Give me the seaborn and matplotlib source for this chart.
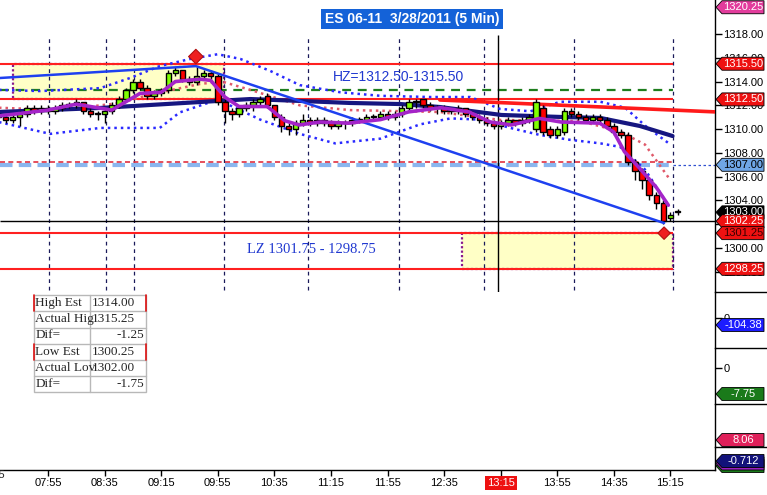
import numpy as np
import seaborn as sns
import matplotlib.pyplot as plt
from matplotlib.patches import Polygon, Rectangle
from matplotlib.lines import Line2D
from matplotlib.transforms import IdentityTransform, blended_transform_factory

# ES 06-11, 5 min bars, bar 0 = 07:20
opens = [1311.25, 1311.0, 1310.75, 1311.0, 1311.25, 1311.75, 1311.5, 1311.75, 1311.5, 1311.75,
         1312.0, 1312.0, 1312.25, 1311.5, 1311.25, 1311.25, 1311.5, 1312.0, 1312.5, 1313.25,
         1314.0, 1313.5, 1312.75, 1313.0, 1313.25, 1314.75, 1315.0, 1314.25, 1314.0, 1314.5,
         1314.75, 1314.5, 1312.25, 1311.5, 1311.25, 1311.75, 1312.0, 1312.25, 1312.75, 1312.0,
         1311.0, 1310.25, 1310.0, 1310.5, 1310.75, 1310.5, 1310.75, 1310.5, 1310.25, 1310.5,
         1310.5, 1310.75, 1310.75, 1311.0, 1311.0, 1311.25, 1311.0, 1311.25, 1311.75, 1312.25,
         1312.5, 1312.0, 1311.75, 1311.75, 1311.5, 1311.5, 1311.75, 1311.25, 1311.0, 1310.75,
         1310.5, 1310.25, 1310.5, 1310.75, 1310.5, 1310.75, 1310.0, 1311.75, 1310.0, 1309.5,
         1309.75, 1311.5, 1311.25, 1311.0, 1310.75, 1311.0, 1310.75, 1310.25, 1309.75, 1309.5,
         1307.25, 1306.5, 1305.75, 1304.5, 1303.75, 1302.5, 1303.0]
highs = [1311.5, 1311.25, 1311.25, 1311.5, 1312.0, 1312.0, 1312.0, 1312.0, 1312.0, 1312.25,
         1312.25, 1312.5, 1312.25, 1311.75, 1311.5, 1311.75, 1312.25, 1312.75, 1313.5, 1314.25,
         1314.25, 1313.75, 1313.25, 1313.5, 1315.0, 1315.25, 1315.0, 1314.5, 1315.25, 1315.0,
         1315.0, 1314.75, 1312.5, 1311.75, 1312.0, 1312.25, 1312.5, 1312.75, 1313.0, 1312.0,
         1311.25, 1310.5, 1310.75, 1311.25, 1311.0, 1311.0, 1311.0, 1310.75, 1310.75, 1310.75,
         1311.0, 1311.0, 1311.25, 1311.25, 1311.5, 1311.5, 1311.5, 1312.0, 1312.5, 1312.5,
         1312.5, 1312.25, 1312.0, 1312.0, 1311.75, 1312.0, 1311.75, 1311.5, 1311.25, 1311.0,
         1310.75, 1310.75, 1311.0, 1310.75, 1311.0, 1311.25, 1312.5, 1312.0, 1310.25, 1310.25,
         1311.75, 1311.75, 1311.5, 1311.25, 1311.25, 1311.25, 1311.0, 1310.5, 1310.0, 1309.75,
         1307.5, 1306.75, 1306.0, 1304.75, 1304.0, 1303.0, 1303.25]
lows = [1310.75, 1310.5, 1310.5, 1310.25, 1311.0, 1311.25, 1311.25, 1311.25, 1311.25, 1311.5,
        1311.75, 1311.75, 1311.25, 1311.0, 1310.75, 1310.5, 1311.25, 1311.75, 1312.25, 1313.0,
        1313.25, 1312.5, 1312.5, 1312.75, 1313.0, 1314.5, 1314.0, 1313.75, 1313.75, 1314.25,
        1314.25, 1312.0, 1310.5, 1310.75, 1311.0, 1311.5, 1311.5, 1312.0, 1311.75, 1310.75,
        1309.75, 1309.5, 1309.5, 1310.25, 1310.25, 1310.25, 1310.25, 1310.0, 1310.0, 1310.0,
        1310.25, 1310.5, 1310.5, 1310.75, 1310.75, 1310.75, 1310.75, 1311.0, 1311.5, 1311.75,
        1311.75, 1311.5, 1311.25, 1311.25, 1311.25, 1311.25, 1311.0, 1310.75, 1310.5, 1310.25,
        1310.0, 1310.0, 1310.25, 1310.25, 1310.25, 1310.5, 1309.75, 1309.5, 1309.25, 1309.25,
        1309.5, 1311.0, 1310.75, 1310.5, 1310.5, 1310.5, 1310.0, 1309.5, 1309.25, 1307.0,
        1305.75, 1305.0, 1304.0, 1303.25, 1302.0, 1302.25, 1302.75]
closes = [1311.0, 1310.75, 1311.0, 1311.25, 1311.75, 1311.5, 1311.75, 1311.5, 1311.75, 1312.0,
          1312.0, 1312.25, 1311.5, 1311.25, 1311.25, 1311.5, 1312.0, 1312.5, 1313.25, 1314.0,
          1313.5, 1312.75, 1313.0, 1313.25, 1314.75, 1315.0, 1314.25, 1314.0, 1314.5, 1314.75,
          1314.5, 1312.25, 1311.5, 1311.25, 1311.75, 1312.0, 1312.25, 1312.5, 1312.0, 1311.0,
          1310.25, 1310.0, 1310.5, 1310.75, 1310.5, 1310.75, 1310.5, 1310.25, 1310.5, 1310.5,
          1310.75, 1310.75, 1311.0, 1311.0, 1311.25, 1311.0, 1311.25, 1311.75, 1312.25, 1312.25,
          1312.0, 1311.75, 1311.75, 1311.5, 1311.5, 1311.75, 1311.25, 1311.0, 1310.75, 1310.5,
          1310.25, 1310.5, 1310.75, 1310.5, 1310.75, 1311.0, 1312.25, 1309.75, 1309.5, 1310.0,
          1311.5, 1311.25, 1311.0, 1310.75, 1311.0, 1310.75, 1310.25, 1309.75, 1309.5, 1307.25,
          1306.5, 1305.75, 1304.5, 1303.75, 1302.25, 1302.75, 1303.0]

# indicator lines (bar index, price)
fast_x = [0, 7, 11, 14, 16, 20, 23, 25, 28.5, 30, 32, 34, 38, 40.5, 42.5, 45.5, 49.5, 54, 58, 62.5,
          66.5, 69.5, 72.5, 76.5, 79.5, 85, 87, 88.5, 90.5, 93, 94.7]
fast_y = [1311.1, 1311.6, 1312.1, 1311.8, 1311.6, 1313.0, 1313.1, 1314.0, 1314.2, 1314.1, 1312.7,
          1311.9, 1311.9, 1310.7, 1310.35, 1310.6, 1310.5, 1310.8, 1311.45, 1311.8, 1311.45, 1310.6,
          1310.35, 1310.9, 1310.6, 1310.5, 1309.75, 1308.1, 1306.8, 1305.1, 1303.6]
slow_x = [0, 14.4, 28.5, 35.6, 42.6, 49.7, 56.8, 62.4, 71.1, 79.6, 85.1, 90.7, 95.3]
slow_y = [1311.44, 1311.78, 1312.28, 1312.53, 1312.37, 1312.2, 1312.11, 1311.86, 1311.19, 1311.02,
          1310.94, 1310.26, 1309.42]
mid_x = [0, 8.7, 17.2, 21.4, 28.5, 31.6, 35.6, 42.6, 49.7, 62.4, 70.9, 82.2, 87.9, 91.4, 95.0]
mid_y = [1311.8, 1311.6, 1312.2, 1312.9, 1313.8, 1314.0, 1313.3, 1312.0, 1311.6, 1311.44, 1310.77,
         1310.68, 1309.8, 1308.7, 1305.7]
upper_x = [0, 5.9, 14.4, 18.6, 22.8, 27.1, 31.0, 34.2, 38.4, 42.6, 48.3, 54.0, 61.0, 66.7, 70.9,
           75.2, 79.4, 85.1, 88.6, 91.4, 95.0]
upper_y = [1313.3, 1313.2, 1313.45, 1314.3, 1315.3, 1315.9, 1316.3, 1315.9, 1314.9, 1313.7, 1313.1,
           1312.8, 1312.7, 1312.7, 1311.7, 1311.5, 1312.3, 1312.3, 1311.8, 1310.3, 1308.7]
lower_x = [0, 7.3, 14.4, 22.8, 25.6, 30.6, 32.0, 37.0, 42.6, 47.6, 54.0, 59.6, 63.9, 68.1, 72.35,
           76.6, 80.8, 85.1, 87.9, 91.4, 94.7]
lower_y = [1310.6, 1309.6, 1310.1, 1310.1, 1311.4, 1312.4, 1312.2, 1310.8, 1309.6, 1308.8, 1309.2,
           1310.4, 1310.9, 1310.8, 1310.1, 1309.5, 1309.1, 1308.8, 1308.5, 1306.6, 1303.6]

trend_x = [0.2, 27.9, 94.1]
trend_y = [1314.3, 1315.3, 1302.1]
res_x = [62.4, 101.3]
res_y = [1312.45, 1311.45]
zone_lines = [1315.50, 1312.50, 1301.25, 1298.25]
hz = (2.05, 31.9, 1312.50, 1315.50)
lz = (65.6, 95.3, 1298.25, 1301.25)
session_lines = [7.1, 15.2, 19.2, 31.9, 43.8, 56.6, 68.7, 81.4, 95.3]
now_line = 70.6
pivots = [(27.9, 1316.1), (94.1, 1301.25)]

time_pos = [7, 15, 23, 31, 39, 47, 55, 63, 71, 79, 87, 95]
time_labels = ["07:55", "08:35", "09:15", "09:55", "10:35", "11:15", "11:55", "12:35",
               "13:15", "13:55", "14:35", "15:15"]
price_ticks = [1298, 1300, 1302, 1304, 1306, 1308, 1310, 1312, 1314, 1316, 1318]
price_tags = [(1320.25, '#e23c9c', 'white'), (1315.50, '#ee1111', 'white'),
              (1312.50, '#ee1111', 'white'), (1307.00, '#6fa6e6', 'black'),
              (1303.00, '#000000', 'white'), (1302.25, '#ee1111', 'white'),
              (1301.25, '#ee1111', '#3a0000'), (1298.25, '#ee1111', 'white')]

table_rows = [("High Est", "1314.00"), ("Actual Hig", "1315.25"), ("Dif=", "-1.25"),
              ("Low Est", "1300.25"), ("Actual Lov", "1302.00"), ("Dif=", "-1.75")]

sns.set_theme(style="white")
plt.rcParams['font.family'] = ['Liberation Sans', 'DejaVu Sans']

W, H = 767, 495
fig = plt.figure(figsize=(W / 100, H / 100), dpi=100)
fig.patch.set_facecolor('white')
XL = (0.21, 101.3)

ax = fig.add_axes([0, 1 - 292 / H, 715 / W, 292 / H])
ax.set_xlim(*XL)
ax.set_ylim(1296.3, 1320.86)
for s in ['top', 'left', 'bottom']:
    ax.spines[s].set_visible(False)
ax.spines['right'].set_color('black')
ax.spines['right'].set_linewidth(1)
ax.set_xticks([])
ax.yaxis.tick_right()
ax.set_yticks(price_ticks)
ax.set_yticklabels([f"{v:.2f}" for v in price_ticks])
ax.tick_params(axis='y', direction='out', length=5, width=1, pad=1, labelsize=8,
               colors='black', right=True, left=False)

# zones
for (x0, x1, y0, y1) in [hz, lz]:
    ax.add_patch(Rectangle((x0, y0), x1 - x0, y1 - y0, facecolor='#ffffc6', edgecolor='#8a1a8a',
                           ls=(0, (1, 1)), lw=1.6, zorder=1))
ax.hlines(zone_lines, XL[0], 95.3, color='#ff2020', lw=1.5, zorder=2)
ax.hlines(1313.25, XL[0], 95.3, color='#1e7e1e', lw=1.6, linestyles=(0, (4, 3)), zorder=2)
ax.hlines(1307.0, XL[0], 95.3, color='#8ab6ee', lw=3, linestyles=(0, (3, 1.5)), zorder=2)
ax.hlines(1307.25, XL[0], 95.3, color='#e03040', lw=1.2, linestyles=(0, (3, 2)), zorder=2)
ax.hlines(1307.0, 95.3, XL[1], color='#3050d0', lw=0.9, linestyles=(0, (2, 2)), zorder=2)
ax.hlines(1302.25, XL[0], XL[1], color='black', lw=1, zorder=2)
ax.vlines(session_lines, 1296.45, 1317.9, colors='#1a1a5a', linestyles=(0, (3, 3)), lw=0.9, zorder=1)
ax.vlines(now_line, 1296.3, 1317.9, colors='black', lw=1, zorder=2)

# bands and averages
sns.lineplot(x=upper_x, y=upper_y, ax=ax, color='#2a2aff', lw=1.8, linestyle=(0, (1, 1.6)), zorder=3)
sns.lineplot(x=lower_x, y=lower_y, ax=ax, color='#2a2aff', lw=1.8, linestyle=(0, (1, 1.6)), zorder=3)
sns.lineplot(x=mid_x, y=mid_y, ax=ax, color='#e05a6a', lw=1.8, linestyle=(0, (1, 1.6)), zorder=3)
sns.lineplot(x=slow_x, y=slow_y, ax=ax, color='#161680', lw=3, zorder=3)
sns.lineplot(x=trend_x, y=trend_y, ax=ax, color='#1e40f0', lw=1.8, zorder=6)
sns.lineplot(x=res_x, y=res_y, ax=ax, color='#ff1a1a', lw=2.6, zorder=3)

# candles
idx = np.arange(len(closes))
o = np.array(opens)
c = np.array(closes)
up = c >= o
ax.vlines(idx, lows, highs, color='black', lw=1, zorder=4)
ax.bar(idx, np.maximum(np.abs(c - o), 0.08), bottom=np.minimum(o, c), width=0.78,
       color=np.where(up, '#80ff00', '#ff0000'), edgecolor='black', linewidth=1.0, zorder=5)
sns.lineplot(x=fast_x, y=fast_y, ax=ax, color='#a424c8', lw=2.6, zorder=6)

px, py = zip(*pivots)
ax.scatter(px, py, marker='D', s=[55, 40], color='#ee2020', edgecolor='#b01010', lw=0.8, zorder=7)

ax.text(56.5, 1314.38, "HZ=1312.50-1315.50", color='#2038d0', fontsize=10, ha='center', va='center',
        zorder=7)
ax.text(44.2, 1299.9, "LZ 1301.75 - 1298.75", color='#2038d0', fontsize=10.5, ha='center',
        va='center', family=['Liberation Serif', 'DejaVu Serif'], zorder=7)

fig.text(412 / W, 1 - 19 / H, "ES 06-11  3/28/2011 (5 Min)", ha='center', va='center', color='white',
         weight='bold', fontsize=10,
         bbox=dict(facecolor='#1462d8', edgecolor='none', boxstyle='square,pad=0.25'))

# lower indicator panels
panels = [(292, 348, (-447, 388), [0]), (348, 404, (-10.73, 5.96), [0]),
          (404, 447, (5.96, 18.86), []), (447, 470, (-1.612, 0.688), [])]
pax = []
for top, bot, lim, ticks in panels:
    a = fig.add_axes([0, 1 - bot / H, 715 / W, (bot - top) / H])
    a.set_xlim(*XL)
    a.set_ylim(*lim)
    a.patch.set_alpha(0)
    for s in ['top', 'left', 'bottom']:
        a.spines[s].set_visible(False)
    a.spines['right'].set_color('black')
    a.spines['right'].set_linewidth(1)
    a.yaxis.tick_right()
    a.set_yticks(ticks)
    a.set_yticklabels([f"{t:g}" for t in ticks])
    a.tick_params(axis='y', direction='out', length=5, width=1, pad=1, labelsize=8, colors='black',
                  right=True, left=False)
    a.set_xticks([])
    pax.append(a)
    fig.add_artist(Line2D([715 / W, 1], [1 - top / H] * 2, color='black', lw=1))

ab = pax[-1]
ab.spines['bottom'].set_visible(True)
ab.spines['bottom'].set_color('black')
ab.spines['bottom'].set_linewidth(1)
ab.set_xticks(time_pos)
ab.set_xticklabels(time_labels)
ab.tick_params(axis='x', direction='out', length=4, width=1, pad=2, labelsize=8, colors='black',
               bottom=True)
lab = ab.get_xticklabels()[time_labels.index("13:15")]
lab.set_color('white')
lab.set_bbox(dict(facecolor='#ee1111', edgecolor='none', pad=1.5))
ab.text(-1, -0.02, "07:15", transform=blended_transform_factory(ab.transData, ab.transAxes),
        ha='center', va='top', fontsize=8, clip_on=False)


def tag(axis, value, text, fc, tc='white', shift=0):
    y = axis.transData.transform((1, value))[1] - shift
    pts = [(716, y), (722, y + 6.5), (764, y + 6.5), (764, y - 6.5), (722, y - 6.5)]
    fig.add_artist(Polygon(pts, closed=True, transform=IdentityTransform(), facecolor=fc,
                           edgecolor='black', lw=0.6, zorder=5))
    if text:
        fig.text(743 / W, y / H, text, ha='center', va='center', color=tc, fontsize=8, zorder=6)


for v, fc, tc in price_tags:
    tag(ax, v, f"{v:.2f}", fc, tc)
tag(pax[0], -104.38, "-104.38", '#1c1cff')
tag(pax[1], -7.75, "-7.75", '#1a7a1a')
tag(pax[2], 8.06, "8.06", '#e0205a')
tag(pax[3], -0.712, "", '#1a7a1a', shift=5)
tag(pax[3], -0.712, "", '#9a20c0', shift=2.5)
tag(pax[3], -0.712, "-0.712", '#12127a')

# estimate table
tx0, tx1, tx2 = 33.7, 90.3, 146.3
ty = [294.5, 311.0, 327.5, 343.5, 360.0, 376.0, 392.0]
inv = IdentityTransform()
fig.add_artist(Rectangle((tx0, H - ty[-1]), tx2 - tx0, ty[-1] - ty[0], transform=inv,
                         facecolor='white', edgecolor='#b8b8b8', lw=1, zorder=2))
for yy in ty[1:-1]:
    fig.add_artist(Line2D([tx0, tx2], [H - yy] * 2, transform=inv, color='#b8b8b8', lw=1, zorder=3))
fig.add_artist(Line2D([tx1, tx1], [H - ty[0], H - ty[-1]], transform=inv, color='#b8b8b8', lw=1,
                      zorder=3))
for r in [0, 3]:
    for xx in [tx0, tx2]:
        fig.add_artist(Line2D([xx, xx], [H - ty[r], H - ty[r + 1]], transform=inv, color='#dd1010',
                              lw=1.2, zorder=4))
for r, (name, val) in enumerate(table_rows):
    yc = (H - (ty[r] + ty[r + 1]) / 2) / H
    fig.text((tx0 + 1.5) / W, yc, name, ha='left', va='center', fontsize=9.5,
             family=['Liberation Serif', 'DejaVu Serif'], zorder=5)
    if name == "Dif=":
        fig.text((tx2 - 2) / W, yc, val, ha='right', va='center', fontsize=9.5,
                 family=['Liberation Serif', 'DejaVu Serif'], zorder=5)
    else:
        fig.text((tx1 + 1.5) / W, yc, val, ha='left', va='center', fontsize=9.5,
                 family=['Liberation Serif', 'DejaVu Serif'], zorder=5)

fig.savefig("out.png", dpi=100)
